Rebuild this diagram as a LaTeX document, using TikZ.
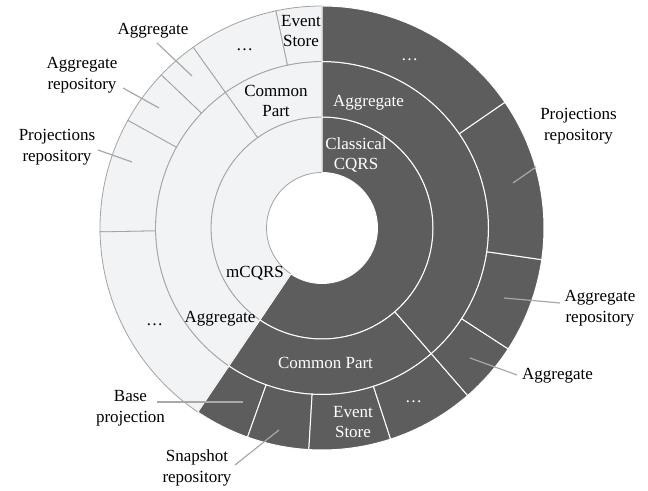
\documentclass[tikz,border=0pt]{standalone}
\usepackage{fontspec}
\setmainfont{Liberation Serif}
\definecolor{lightfill}{HTML}{F2F3F5}
\definecolor{lightedge}{HTML}{A3A3A3}
\definecolor{darkfill}{HTML}{5D5D5D}
\definecolor{leadercol}{HTML}{A8A8A8}
% annular sector: inner radius, outer radius, start angle, end angle, style
\newcommand\ringseg[5]{%
  \path[#5] (#3:#2bp) arc[start angle=#3, end angle=#4, radius=#2bp]
    -- (#4:#1bp) arc[start angle=#4, end angle=#3, radius=#1bp] -- cycle;}
\begin{document}
\begin{tikzpicture}[x=1bp,y=1bp,
  lightseg/.style={fill=lightfill, draw=lightedge, line width=0.8bp},
  darkseg/.style={fill=darkfill, draw=white, line width=1bp},
  lbl/.style={font=\fontsize{17bp}{20.5bp}\selectfont, align=center, inner sep=0pt},
  darklbl/.style={lbl, text=white},
  leader/.style={draw=leadercol, line width=1.2bp}]
\useasboundingbox (0,0) rectangle (648,491);

\begin{scope}[shift={(322,263)}]
  % mCQRS side
  \ringseg{55.5}{111}{90}{236}{lightseg}
  \ringseg{111}{166.5}{90}{125.5}{lightseg}
  \ringseg{111}{166.5}{125.5}{236}{lightseg}
  \ringseg{166.5}{222}{90}{102}{lightseg}
  \ringseg{166.5}{222}{102}{125.5}{lightseg}
  \ringseg{166.5}{222}{125.5}{136.4}{lightseg}
  \ringseg{166.5}{222}{136.4}{151}{lightseg}
  \ringseg{166.5}{222}{151}{181}{lightseg}
  \ringseg{166.5}{222}{181}{236}{lightseg}
  % Classical CQRS side
  \ringseg{55.5}{111}{236}{450}{darkseg}
  \ringseg{111}{166.5}{236}{311}{darkseg}
  \ringseg{111}{166.5}{311}{450}{darkseg}
  \ringseg{166.5}{222}{236}{250.4}{darkseg}
  \ringseg{166.5}{222}{250.4}{266.6}{darkseg}
  \ringseg{166.5}{222}{266.6}{288}{darkseg}
  \ringseg{166.5}{222}{288}{311}{darkseg}
  \ringseg{166.5}{222}{311}{327}{darkseg}
  \ringseg{166.5}{222}{327}{351.8}{darkseg}
  \ringseg{166.5}{222}{351.8}{394.5}{darkseg}
  \ringseg{166.5}{222}{394.5}{450}{darkseg}
\end{scope}

% labels inside the rings
\node[lbl] (mcqrs) at (255,218) {mCQRS};
\node[lbl] (lcommon) at (276,390) {Common\\Part};
\node[lbl] (laggr) at (220,172) {Aggregate};
\node[lbl] (levent) at (301,460) {Event\\Store};
\node[lbl] (ldotsA) at (244.5,441) {…};
\node[lbl] (ldotsB) at (154.5,166) {…};

\node[darklbl] (cqrs) at (356,336) {Classical\\CQRS};
\node[darklbl] (daggr) at (368.5,388) {Aggregate};
\node[darklbl] (dcommon) at (325.5,128) {Common Part};
\node[darklbl] (devent) at (353,69) {Event\\Store};
\node[darklbl] (ddotsA) at (409.5,431) {…};
\node[darklbl] (ddotsB) at (413.5,89) {…};

% outside labels
\node[lbl] (oaggrL) at (153,460) {Aggregate};
\node[lbl] (oarepL) at (82,416) {Aggregate\\repository};
\node[lbl] (oprepL) at (57,344) {Projections\\repository};
\node[lbl] (oprepR) at (578.5,365) {Projections\\repository};
\node[lbl] (oarepR) at (600,183) {Aggregate\\repository};
\node[lbl] (oaggrR) at (557.5,115) {Aggregate};
\node[lbl] (obase) at (130.5,83) {Base\\projection};
\node[lbl] (osnap) at (197,23) {Snapshot\\repository};

% leader line ends
\coordinate (aggrL-o) at (157,448);  \coordinate (aggrL-i) at (192,415);
\coordinate (arepL-o) at (123,403);  \coordinate (arepL-i) at (159,383);
\coordinate (prepL-o) at (98,341);   \coordinate (prepL-i) at (132,329);
\coordinate (prepR-o) at (536,324);  \coordinate (prepR-i) at (513,308);
\coordinate (arepR-o) at (560,188);  \coordinate (arepR-i) at (504,193);
\coordinate (aggrR-o) at (517,116);  \coordinate (aggrR-i) at (470,133);
\coordinate (base-o) at (157,89);    \coordinate (base-i) at (243,89);
\coordinate (snap-o) at (235,26);    \coordinate (snap-i) at (279,61);

\foreach \n in {aggrL,arepL,prepL,prepR,arepR,aggrR,base,snap}
  \draw[leader] (\n-o) -- (\n-i);
\end{tikzpicture}
\end{document}
